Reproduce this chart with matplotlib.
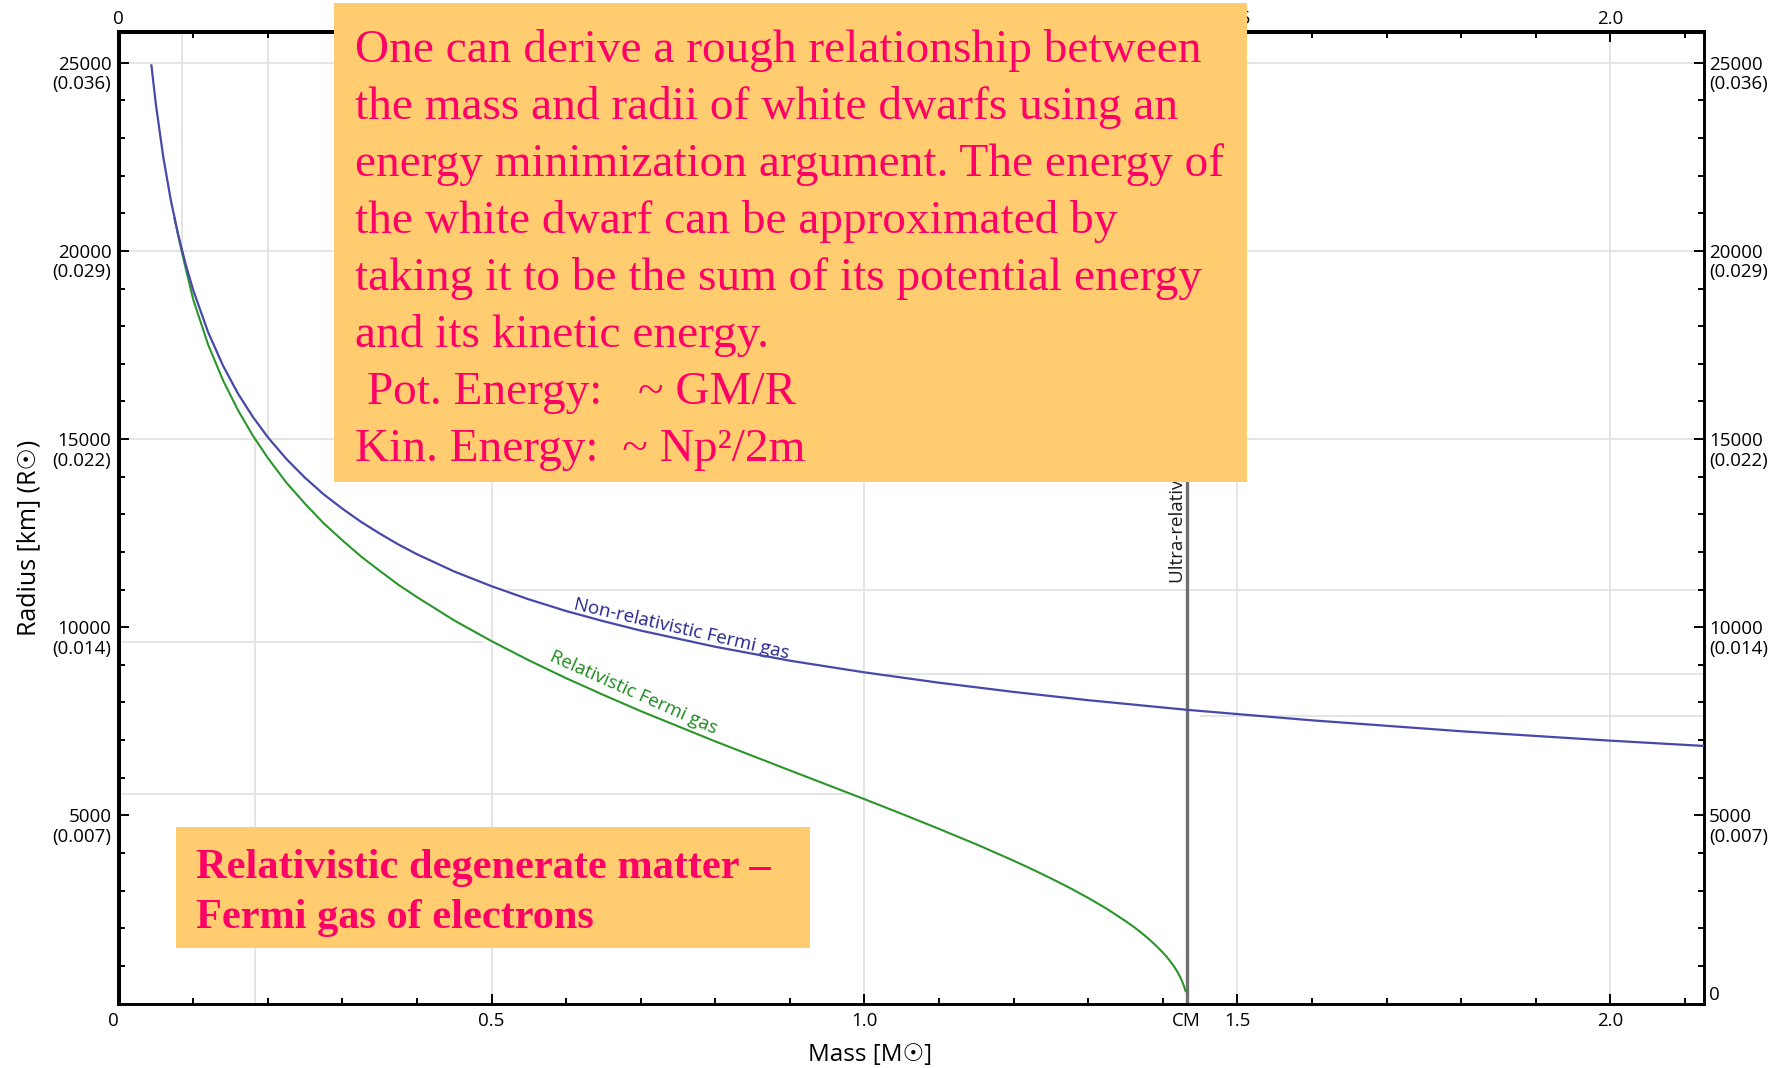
import matplotlib
matplotlib.use("Agg")
import matplotlib.pyplot as plt
from matplotlib.patches import Rectangle
from matplotlib.ticker import MultipleLocator, FixedLocator

# curves: mass in solar masses, radius in km
mass_nonrel = [0.044, 0.05, 0.06, 0.07, 0.08, 0.09, 0.10, 0.12, 0.14, 0.16, 0.18, 0.20,
               0.225, 0.25, 0.275, 0.30, 0.325, 0.35, 0.375, 0.40, 0.45, 0.50, 0.55, 0.60,
               0.65, 0.70, 0.80, 0.90, 1.0, 1.1, 1.2, 1.3, 1.432, 1.6, 1.8, 2.0, 2.125]
radius_nonrel = [24930, 23890, 22480, 21350, 20420, 19640, 18960, 17840, 16950, 16210, 15590, 15050,
                 14470, 13970, 13530, 13150, 12800, 12490, 12200, 11940, 11480, 11090, 10740, 10430,
                 10160, 9910, 9480, 9110, 8800, 8525, 8280, 8060, 7805, 7525, 7235, 6985, 6845]

mass_rel = [0.075, 0.085, 0.10, 0.12, 0.14, 0.16, 0.18, 0.20, 0.225, 0.25, 0.275, 0.30, 0.325, 0.35,
            0.375, 0.40, 0.45, 0.50, 0.55, 0.60, 0.65, 0.70, 0.80, 0.90, 1.0, 1.05, 1.1, 1.15, 1.2,
            1.225, 1.25, 1.275, 1.3, 1.325, 1.35, 1.36, 1.37, 1.38, 1.39, 1.40, 1.405, 1.41, 1.415,
            1.42, 1.425, 1.428, 1.4305]
radius_rel = [20860, 19950, 18710, 17510, 16560, 15770, 15090, 14500, 13840, 13280, 12760, 12310, 11880, 11500,
              11130, 10800, 10180, 9630, 9120, 8645, 8200, 7770, 6965, 6195, 5430, 5040, 4640, 4230, 3795,
              3565, 3325, 3075, 2805, 2515, 2190, 2050, 1900, 1735, 1555, 1355, 1245, 1120, 985,
              830, 630, 480, 330]

chandra_mass = 1.432

# axis ticks
x_ticks = [0, 0.5, 1.0, chandra_mass, 1.5, 2.0]
x_labels = ["0", "0.5", "1.0", "CM", "1.5", "2.0"]
x_top_ticks = [0, 0.5, 1.0, 1.5, 2.0]
x_top_labels = ["0", "0.5", "1.0", "1.5", "2.0"]
r_ticks = [5000, 10000, 15000, 20000, 25000]
r_solar = ["0.007", "0.014", "0.022", "0.029", "0.036"]

# faint grid segments as they appear in the picture (value, from, to)
vgrid = [(0.085, 20000, 25820), (0.2, 15000, 25820), (0.183, 0, 15000), (0.5, 0, 15000),
         (1.0, 0, 25820), (1.5, 0, 25820), (2.0, 0, 25820)]
hgrid = [(25000, 0, 2.125), (20000, 0, 2.125), (15000, 0, 2.125), (9600, 0, 0.49),
         (11000, 0.52, 2.125), (5560, 0, 0.98), (8750, 1.03, 2.125), (7640, 1.45, 2.125)]

note_lines = ["One can derive a rough relationship between",
              "the mass and radii of white dwarfs using an",
              "energy minimization argument. The energy of",
              "the white dwarf can be approximated by",
              "taking it to be the sum of its potential energy",
              "and its kinetic energy.",
              " Pot. Energy:   ~ GM/R",
              "Kin. Energy:  ~ Np\u00b2/2m"]
title_lines = ["Relativistic degenerate matter \u2013", "Fermi gas of electrons"]

W, H = 1788, 1068
box_color = "#ffcd70"
pink = "#ff0066"
sans = ["Open Sans", "DejaVu Sans"]
tick_fs = 13.5

fig = plt.figure(figsize=(W / 100, H / 100), dpi=100)
ax = fig.add_axes([118.6 / W, 1 - 1003.5 / H, 1585 / W, 971.6 / H])
ax.set_xlim(0, 2.125)
ax.set_ylim(0, 25820)

for x, y0, y1 in vgrid:
    ax.vlines(x, y0, y1, color="#e0e0e0", lw=1.2, zorder=0)
for y, x0, x1 in hgrid:
    ax.hlines(y, x0, x1, color="#e0e0e0", lw=1.2, zorder=0)

ax.axvline(chandra_mass, color="#707070", lw=2.4, zorder=2)
ax.plot(mass_rel, radius_rel, color="#2a962a", lw=1.5, zorder=3)
ax.plot(mass_nonrel, radius_nonrel, color="#4848aa", lw=1.6, zorder=4)

ax.text(0.755, 9950, "Non-relativistic Fermi gas", color="#26268c", fontsize=13.5, family=sans,
        rotation=-13, ha="center", va="center", rotation_mode="anchor")
ax.text(0.69, 8260, "Relativistic Fermi gas", color="#1e8a1e", fontsize=13.5, family=sans,
        rotation=-24, ha="center", va="center", rotation_mode="anchor")
ax.text(1.421, 11180, "Ultra-relativistic Fermi gas", color="#1a1a1a", fontsize=13.5, family=sans,
        rotation=90, ha="center", va="bottom")

for side in ["left", "top"]:
    ax.spines[side].set_linewidth(2.9)
for side in ["bottom", "right"]:
    ax.spines[side].set_linewidth(2.1)

ax.xaxis.set_major_locator(FixedLocator(x_ticks))
ax.xaxis.set_minor_locator(MultipleLocator(0.1))
ax.yaxis.set_major_locator(FixedLocator(r_ticks))
ax.yaxis.set_minor_locator(MultipleLocator(1000))
ax.set_xticklabels(x_labels, family=sans, fontsize=tick_fs)
ax.get_xticklabels()[0].set_ha("right")
ax.set_yticklabels([])
ax.tick_params(which="both", direction="in", top=True, right=True, width=1.4)
ax.tick_params(which="major", length=7)
ax.tick_params(which="minor", length=4.5)
ax.tick_params(axis="x", pad=6)

# top labels and both radius scales drawn by hand (two-line labels)
xt = ax.get_xaxis_transform()
for v, lab in zip(x_top_ticks, x_top_labels):
    ax.text(v, 1.004, lab, transform=xt, ha="center", va="bottom", fontsize=tick_fs, family=sans)
yt = ax.get_yaxis_transform()
for v, s in zip(r_ticks, r_solar):
    lab = f"{v}\n({s})"
    ax.text(-0.0045, v + 190, lab, transform=yt, ha="right", va="top", fontsize=tick_fs,
            family=sans, linespacing=1.12)
    ax.text(1.0035, v + 190, lab, transform=yt, ha="left", va="top", fontsize=tick_fs,
            family=sans, linespacing=1.12)
ax.text(1.0035, 0, "0", transform=yt, ha="left", va="bottom", fontsize=tick_fs, family=sans)

ax.set_xlabel("Mass [M\u2609]", family=sans, fontsize=17.5)
ax.xaxis.set_label_coords(0.474, -0.053)
ax.xaxis.label.set_va("center")
ax.set_ylabel("Radius [km] (R\u2609)", family=sans, fontsize=18)
ax.yaxis.set_label_coords(-0.057, 0.479)
ax.yaxis.label.set_va("center")

# the two overlay boxes (figure pixels)
fig.add_artist(Rectangle((334 / W, 1 - 482 / H), 913 / W, 479 / H, transform=fig.transFigure,
                         facecolor=box_color, edgecolor="none", zorder=10))
fig.add_artist(Rectangle((176 / W, 1 - 948 / H), 634 / W, 121 / H, transform=fig.transFigure,
                         facecolor=box_color, edgecolor="none", zorder=10))

for i, line in enumerate(note_lines):
    fig.text(355 / W, 1 - (62 + 57 * i) / H, line, color=pink, fontsize=34,
             family="Liberation Serif", ha="left", va="baseline", zorder=11)
for i, line in enumerate(title_lines):
    fig.text(196 / W, 1 - (878 + 50 * i) / H, line, color=pink, fontsize=30.5, fontweight="bold",
             family="Liberation Serif", ha="left", va="baseline", zorder=11)

fig.savefig("out.png", dpi=100)
